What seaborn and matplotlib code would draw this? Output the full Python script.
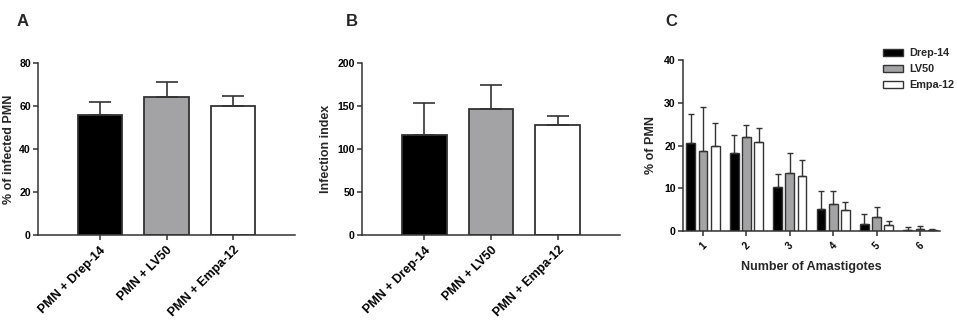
import matplotlib
matplotlib.use('Agg')
import matplotlib.pyplot as plt
import numpy as np
import pandas as pd
import seaborn as sns

# dados
grupos = ['PMN + Drep-14', 'PMN + LV50', 'PMN + Empa-12']
infectados = [56.0, 64.1, 60.2]
infectados_sd = [5.8, 7.0, 4.4]
indice = [115.7, 146.8, 127.4]
indice_sd = [37.7, 28.0, 11.2]

n_amastigotas = ['1', '2', '3', '4', '5', '6']
series = ['Drep-14', 'LV50', 'Empa-12']
drep = [20.5, 18.3, 10.2, 5.1, 1.6, 0.3]
drep_sd = [6.9, 4.2, 3.2, 4.3, 2.3, 0.6]
lv50 = [18.8, 22.1, 13.6, 6.2, 3.2, 0.4]
lv50_sd = [10.3, 2.6, 4.6, 3.1, 2.5, 0.8]
empa = [20.0, 20.8, 12.8, 4.8, 1.4, 0.2]
empa_sd = [5.3, 3.2, 3.9, 1.9, 0.9, 0.3]

cores = ['#000000', '#a2a2a6', '#ffffff']
borda = '#333333'

sns.set_style('ticks')
plt.rcParams['font.family'] = ['Liberation Sans', 'DejaVu Sans']
plt.rcParams['font.weight'] = 'bold'
plt.rcParams['axes.labelweight'] = 'bold'

fig = plt.figure(figsize=(9.57, 3.22), dpi=100)
W, H = 957, 322


def caixa(x0, x1, ytop, ybot):
    return [x0 / W, 1 - ybot / H, (x1 - x0) / W, (ybot - ytop) / H]


def estilo_eixo(ax, lw=1.1):
    sns.despine(ax=ax)
    for s in ['left', 'bottom']:
        ax.spines[s].set_color(borda)
        ax.spines[s].set_linewidth(lw)
    ax.tick_params(axis='both', direction='out', length=3.6, width=lw,
                   color=borda, labelcolor='black', pad=1.5)


def painel_simples(ax, valores, desvios, ymax, passo, rotulo_y, label_x):
    dados = pd.DataFrame({'grupo': grupos, 'valor': valores})
    sns.barplot(data=dados, x='grupo', y='valor', hue='grupo', palette=cores,
                legend=False, errorbar=None, width=0.67, edgecolor=borda,
                linewidth=1.3, ax=ax)
    ax.errorbar(range(len(valores)), valores,
                yerr=[np.zeros(len(desvios)), desvios], fmt='none',
                ecolor=borda, elinewidth=1.2, capsize=8, capthick=1.2)
    ax.set_xlim(-0.93, 2.93)
    ax.set_ylim(0, ymax)
    ax.set_yticks(np.arange(0, ymax + 1, passo))
    estilo_eixo(ax)
    ax.tick_params(axis='y', labelsize=7.6)
    ax.tick_params(axis='x', labelsize=9, pad=3)
    for t in ax.get_xticklabels():
        t.set_rotation(45)
        t.set_ha('right')
        t.set_rotation_mode('anchor')
    ax.set_xlabel('')
    ax.set_ylabel(rotulo_y, fontsize=9)
    ax.yaxis.set_label_coords(label_x, 0.5)


# A
axA = fig.add_axes(caixa(38, 295, 63, 235))
painel_simples(axA, infectados, infectados_sd, 80, 20, '% of infected PMN', -0.09)

# B
axB = fig.add_axes(caixa(362, 620, 63, 235))
painel_simples(axB, indice, indice_sd, 200, 50, 'Infection index', -0.116)

# C
axC = fig.add_axes(caixa(683, 940, 60, 231))
tabela = pd.DataFrame({
    'n': n_amastigotas * 3,
    'pct': drep + lv50 + empa,
    'serie': [s for s in series for _ in n_amastigotas],
})
sns.barplot(data=tabela, x='n', y='pct', hue='serie', palette=cores,
            errorbar=None, width=0.84, gap=0.28, edgecolor=borda,
            linewidth=1.0, ax=axC)
for cont, vals, sds in zip(axC.containers, [drep, lv50, empa], [drep_sd, lv50_sd, empa_sd]):
    xs = [p.get_x() + p.get_width() / 2 for p in cont.patches]
    axC.errorbar(xs, vals, yerr=[np.zeros(len(sds)), sds], fmt='none',
                 ecolor=borda, elinewidth=1.0, capsize=2, capthick=1.0)
axC.set_xlim(-0.46, 5.46)
axC.set_ylim(0, 40)
axC.set_yticks([0, 10, 20, 30, 40])
estilo_eixo(axC)
axC.tick_params(axis='y', labelsize=7.6)
axC.tick_params(axis='x', labelsize=7, pad=3)
for t in axC.get_xticklabels():
    t.set_rotation(45)
axC.set_xlabel('Number of Amastigotes', fontsize=9, labelpad=7)
axC.set_ylabel('% of PMN', fontsize=9)
axC.yaxis.set_label_coords(-0.10, 0.5)
leg = axC.legend(title=None, loc='upper left', bbox_to_anchor=(879 / W, 1 - 44 / H),
                 bbox_transform=fig.transFigure, frameon=False, fontsize=7.8,
                 handlelength=1.8, handleheight=0.6, labelspacing=0.55,
                 handletextpad=0.6, borderaxespad=0)

# letras dos painéis
for letra, x in [('A', 17), ('B', 346), ('C', 665)]:
    fig.text(x / W, 1 - 21 / H, letra, fontsize=12, fontweight='bold', va='center')

fig.savefig('out.png', dpi=100)
